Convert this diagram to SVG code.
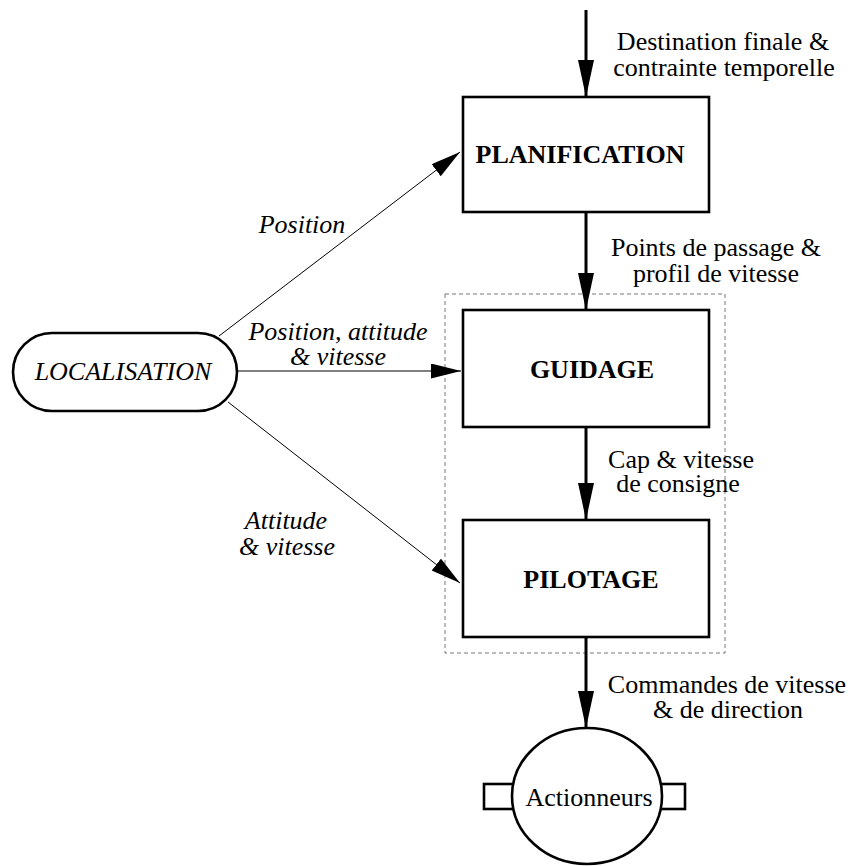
<svg xmlns="http://www.w3.org/2000/svg" width="854" height="866" viewBox="0 0 854 866">
<style>
text{font-family:"Liberation Serif","Times New Roman",serif;font-size:26px;fill:#000}
.b{font-weight:bold}
.i{font-style:italic}
.box{fill:#fff;stroke:#000;stroke-width:2.6}
.thick{stroke:#000;stroke-width:3;fill:none}
.thin{stroke:#000;stroke-width:1;fill:none}
</style>
<defs>
<marker id="ah" markerUnits="userSpaceOnUse" markerWidth="40" markerHeight="20" refX="37" refY="8" orient="auto">
<path d="M0,0 L37,8 L0,16 z" fill="#000"/>
</marker>
<marker id="at" markerUnits="userSpaceOnUse" markerWidth="34" markerHeight="18" refX="30" refY="7.5" orient="auto">
<path d="M0,0 L30,7.5 L0,15 z" fill="#000"/>
</marker>
</defs>
<rect id="group-frame" x="445" y="294" width="280" height="359" fill="none" stroke="#777" stroke-width="1" stroke-dasharray="4 3"/>
<g id="connectors">
<line class="thick" x1="586" y1="10" x2="586" y2="97" marker-end="url(#ah)"/>
<line class="thick" x1="586" y1="212" x2="586" y2="310" marker-end="url(#ah)"/>
<line class="thick" x1="586" y1="427" x2="586" y2="520" marker-end="url(#ah)"/>
<line class="thick" x1="586" y1="637" x2="586" y2="728" marker-end="url(#ah)"/>
<line class="thin" x1="219" y1="336" x2="460" y2="152" marker-end="url(#at)"/>
<line class="thin" x1="237" y1="371" x2="461" y2="371" marker-end="url(#at)"/>
<line class="thin" x1="228" y1="402" x2="460" y2="583" marker-end="url(#at)"/>
<text x="723" y="50" text-anchor="middle">Destination finale &amp;</text>
<text x="724" y="76" text-anchor="middle">contrainte temporelle</text>
<text x="716" y="256" text-anchor="middle">Points de passage &amp;</text>
<text x="716" y="282" text-anchor="middle">profil de vitesse</text>
<text x="681" y="468" text-anchor="middle">Cap &amp; vitesse</text>
<text x="678" y="492" text-anchor="middle">de consigne</text>
<text x="727" y="693" text-anchor="middle">Commandes de vitesse</text>
<text x="728" y="718" text-anchor="middle">&amp; de direction</text>
<text class="i" x="302" y="233" text-anchor="middle">Position</text>
<text class="i" x="338" y="340" text-anchor="middle">Position, attitude</text>
<text class="i" x="338" y="365" text-anchor="middle">&amp; vitesse</text>
<text class="i" x="286" y="529" text-anchor="middle">Attitude</text>
<text class="i" x="287" y="555" text-anchor="middle">&amp; vitesse</text>
</g>
<g id="planification">
<rect class="box" x="463" y="97" width="246" height="115"/>
<text class="b" x="580" y="163" text-anchor="middle">PLANIFICATION</text>
</g>
<g id="guidage">
<rect class="box" x="463" y="310" width="246" height="117"/>
<text class="b" x="592" y="378" text-anchor="middle">GUIDAGE</text>
</g>
<g id="pilotage">
<rect class="box" x="463" y="520" width="246" height="117"/>
<text class="b" x="591" y="588" text-anchor="middle">PILOTAGE</text>
</g>
<g id="localisation">
<rect class="box" x="13" y="333" width="224" height="78" rx="39" ry="39"/>
<text class="i" x="123" y="380" text-anchor="middle">LOCALISATION</text>
</g>
<g id="actionneurs">
<rect class="box" x="484" y="784" width="32" height="25"/>
<rect class="box" x="656" y="784" width="29" height="25"/>
<ellipse class="box" cx="587" cy="796" rx="75" ry="68"/>
<text x="589" y="806" text-anchor="middle">Actionneurs</text>
</g>
</svg>
